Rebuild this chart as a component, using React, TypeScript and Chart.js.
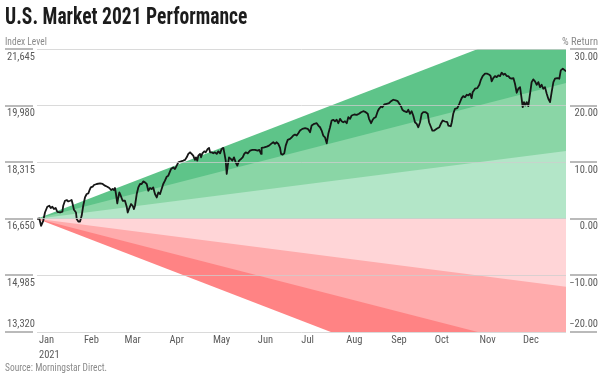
import React, { useEffect, useRef, useState } from "react";
import { Chart, registerables } from "chart.js";

Chart.register(...registerables);

// ---------- data ----------
const monthLabels = ["Jan", "Feb", "Mar", "Apr", "May", "Jun", "Jul", "Aug", "Sep", "Oct", "Nov", "Dec"];
const monthStartDays = [0, 31, 59, 90, 120, 151, 181, 212, 243, 273, 304, 334];
const yearLabel = "2021";
const indexTicks = [13320, 14985, 16650, 18315, 19980, 21645];
const returnTicks = [-20, -10, 0, 10, 20, 30];
const baseLevel = 16650;
const bandEndReturns = [36, 24, 12, -12, -24, -36];

// day of year (0 = Jan 1) and index level of the market line
const lineDays = [
  0.0, 1.6, 2.8, 4.3, 5.5, 7.1, 8.5, 9.5, 10.6, 11.7, 12.9, 14.0, 15.9, 17.5, 18.1, 19.3, 20.5, 21.6, 22.8, 23.9,
  24.6, 25.5, 26.9, 27.4, 28.5, 29.7, 30.8, 31.9, 33.1, 34.3, 35.4, 36.1, 37.1, 38.4, 39.3, 41.2, 43.5, 45.3, 46.9, 48.5,
  49.9, 51.1, 52.2, 53.1, 53.8, 54.5, 55.4, 56.1, 56.8, 57.8, 59.1, 60.7, 61.9, 62.6, 63.7, 64.9, 66.0, 66.9, 67.6, 68.8,
  69.9, 71.1, 72.2, 73.3, 74.5, 75.7, 76.8, 78.0, 79.1, 80.2, 81.4, 82.6, 83.7, 84.9, 86.0, 87.1, 88.3, 89.5, 90.6,
  92.5, 94.0, 95.2, 96.4, 97.5, 99.4, 100.9, 102.1, 103.3, 104.4, 105.6, 106.7, 107.8, 109.0, 109.7, 110.6, 111.3, 112.5,
  113.2, 114.1, 115.4, 116.4, 117.8, 118.7, 119.4, 120.5, 121.6, 122.8, 124.0, 125.1, 126.3, 127.4, 128.6, 129.2, 130.2,
  130.9, 131.6, 132.5, 133.7, 134.8, 135.9, 137.1, 138.2, 139.4, 140.8, 141.9, 143.0, 144.0, 145.4, 147.0, 148.6, 150.4,
  152.3, 153.4, 154.6, 155.0, 156.8, 158.5, 160.1, 161.5, 163.0, 164.2, 165.4, 166.5, 167.7, 168.4, 169.5, 170.6, 171.6,
  173.0, 174.6, 175.7, 176.8, 178.0, 179.2, 180.3,
  181.5, 183.1, 185.0, 186.8, 187.7, 188.4, 189.5, 191.3, 193.0, 194.1, 195.3, 196.4, 197.5, 198.7, 199.9, 201.0, 202.2,
  203.3, 204.4, 205.6, 206.8, 207.9, 209.1, 210.2, 211.3, 212.5, 213.7, 214.8, 216.0, 217.1, 218.9, 220.6, 222.2, 223.6,
  225.1, 226.8, 228.2, 229.1, 230.5, 231.6, 232.7, 233.7, 235.1, 236.0, 237.4, 238.3, 239.6, 241.3, 242.9, 244.3, 245.8,
  247.5, 248.9, 249.8, 251.2, 252.1, 253.4, 255.1, 256.2, 257.4, 258.5, 259.6, 260.8, 262.0, 263.1, 264.3, 265.4, 266.5,
  268.2, 269.6, 270.5, 271.9, 272.8, 274.1,
  275.8, 277.6, 278.6, 279.9, 281.5, 283.1, 283.8, 285.5, 286.2, 287.2, 288.4, 290.0, 291.4, 293.0, 294.1, 295.3, 296.5,
  297.6, 298.8, 299.9, 300.6, 302.2, 303.8, 305.2, 306.1, 307.5, 309.1, 310.7, 312.1, 313.0, 313.7, 314.8, 316.0, 317.2,
  318.3, 319.5, 320.6, 321.8, 322.9, 324.1, 325.2, 326.4, 327.5, 328.7, 329.8, 331.0, 332.1, 333.3, 334.4, 335.1, 336.0,
  336.9, 337.9, 339.0, 340.2, 341.3, 342.4, 343.6, 344.8, 345.9, 347.1, 348.2, 349.3, 350.5, 351.7, 352.8, 354.0, 355.1,
  356.3, 357.4, 359.0, 360.4, 361.4, 362.8, 364.3, 365.0,
];
const lineLevels = [
  16650, 16659, 16444, 16591, 16836, 17004, 17034, 16966, 17004, 16936, 16966, 16857, 16836, 16857, 17034, 17181, 17202, 17160, 17181, 17202,
  17084, 16916, 16836, 16641, 16570, 16570, 16739, 17034, 17278, 17379, 17396, 17476, 17573, 17594, 17644, 17674, 17691, 17674, 17624, 17594,
  17556, 17497, 17526, 17497, 17556, 17379, 17101, 17278, 17426, 17329, 17181, 17181, 17004, 16836, 16966, 17084, 17034, 16936, 17034, 17379,
  17573, 17674, 17674, 17750, 17721, 17674, 17476, 17556, 17526, 17573, 17379, 17278, 17426, 17379, 17526, 17674, 17771, 17889, 17919,
  18116, 18163, 18116, 18214, 18311, 18340, 18361, 18382, 18458, 18559, 18606, 18559, 18509, 18382, 18458, 18361, 18509, 18559,
  18458, 18576, 18635, 18606, 18706, 18736, 18606, 18606, 18576, 18606, 18559, 18635, 18576, 18706, 18736, 18606, 18361,
  17969, 18214, 18458, 18411, 18361, 18458, 18311, 18214, 18361, 18411, 18458, 18559, 18606, 18576, 18656, 18677, 18677,
  18656, 18677, 18559, 18736, 18753, 18774, 18804, 18854, 18901, 18854, 18901, 18854, 18736, 18559, 18538, 18576, 18804,
  18972, 19001, 19048, 19099, 19128, 19099, 19166,
  19246, 19296, 19314, 19296, 19246, 19196, 19394, 19444, 19461, 19394, 19343, 19246, 19099, 19048, 18871, 19149, 19343,
  19541, 19562, 19520, 19562, 19461, 19591, 19520, 19491, 19520, 19461, 19638, 19591, 19689, 19718, 19709, 19739, 19786,
  19815, 19786, 19739, 19591, 19461, 19562, 19621, 19638, 19815, 19886, 19954, 19933, 20013, 20034, 20051, 20110, 20152,
  20131, 20110, 20051, 19954, 19857, 19815, 19786, 19857, 19739, 19815, 19689, 19491, 19444, 19343, 19491, 19739, 19786,
  19786, 19739, 19491, 19343, 19246, 19246,
  19296, 19343, 19444, 19541, 19512, 19491, 19394, 19373, 19491, 19739, 19886, 19904, 20034, 20199, 20258, 20228, 20299,
  20279, 20329, 20199, 20376, 20476, 20494, 20594, 20721, 20848, 20919, 20919, 20889, 20848, 20692, 20789, 20848, 20818,
  20869, 20848, 20948, 20889, 20919, 20848, 20848, 20789, 20771, 20789, 20624, 20358, 20476, 20523, 20181, 19933, 20081,
  19984, 20081, 19963, 20329, 20671, 20751, 20692, 20594, 20671, 20523, 20594, 20476, 20523, 20329, 20181, 20081, 20376,
  20671, 20771, 20789, 20771, 21016, 21066, 21016, 20986,
];

// ---------- styles ----------
const bandColors = ["#5ec489", "#8ad6a6", "#b3e6c8", "#ffd5d7", "#ffabac", "#ff8384"];
const bandOrder = [3, 2, 1, 1, 2, 3];
const labelColor = "#5a5a5a";
const lightText = "#8a8a8a";

type FontInfo = { family: string; condensed: boolean; ratio: number };

function pickFont(): FontInfo {
  try {
    const c = document.createElement("canvas").getContext("2d");
    if (c) {
      const sample = "21,645 Performance Index";
      for (const fam of ["Roboto", "Noto Sans", "Open Sans"]) {
        c.font = `normal normal 20px '${fam}'`;
        const w1 = c.measureText(sample).width;
        c.font = `normal condensed 20px '${fam}'`;
        const w2 = c.measureText(sample).width;
        if (w2 < w1 * 0.92) return { family: `'${fam}', sans-serif`, condensed: true, ratio: w2 / w1 };
      }
    }
  } catch (e) {
    /* ignore */
  }
  return { family: "Roboto, sans-serif", condensed: false, ratio: 1 };
}

function makeTickMarks() {
  return {
    id: "tickMarks",
    afterDraw(chart: any) {
      const ctx = chart.ctx;
      const y = chart.scales.y;
      const y1 = chart.scales.y1;
      ctx.save();
      ctx.strokeStyle = "#a3a3a3";
      ctx.lineWidth = 1.5;
      y.ticks.forEach((t: any) => {
        const p = Math.round(y.getPixelForValue(t.value));
        ctx.beginPath();
        ctx.moveTo(y.left - 2, p);
        ctx.lineTo(y.right - 4, p);
        ctx.stroke();
      });
      y1.ticks.forEach((t: any) => {
        const p = Math.round(y1.getPixelForValue(t.value));
        ctx.beginPath();
        ctx.moveTo(y1.left + 4, p);
        ctx.lineTo(y1.right - 1, p);
        ctx.stroke();
      });
      ctx.restore();
    },
  };
}

export default function App() {
  const ref = useRef<HTMLCanvasElement | null>(null);
  const [font] = useState<FontInfo>(() => pickFont());

  useEffect(() => {
    if (!ref.current) return;
    const tickFont = {
      family: font.family,
      size: font.condensed ? 10.5 : 9,
      weight: font.condensed ? "condensed" : "normal",
    };
    const bandSets = bandEndReturns.map((r, i) => ({
      label: `band${r}`,
      data: [
        { x: monthStartDays[0], y: baseLevel },
        { x: 365, y: baseLevel * (1 + r / 100) },
      ],
      borderWidth: 0,
      pointRadius: 0,
      backgroundColor: bandColors[i],
      fill: { value: baseLevel },
      order: bandOrder[i],
      yAxisID: "y",
    }));
    const chart = new Chart(ref.current, {
      type: "line",
      data: {
        datasets: [
          {
            label: "Index",
            data: lineDays.map((d, i) => ({ x: d, y: lineLevels[i] })),
            borderColor: "#161616",
            borderWidth: 1.8,
            pointRadius: 0,
            tension: 0,
            fill: false,
            borderJoinStyle: "round",
            order: 0,
            yAxisID: "y",
          },
          ...bandSets,
        ] as any,
      },
      options: {
        responsive: false,
        animation: false,
        events: [],
        devicePixelRatio: 1,
        layout: { padding: { left: 7, right: 3, top: 49, bottom: 15 } },
        plugins: { legend: { display: false }, tooltip: { enabled: false }, title: { display: false } },
        scales: {
          x: {
            type: "linear",
            min: 0,
            max: 365,
            grid: { display: false, drawTicks: false },
            border: { display: false },
            afterBuildTicks: (s: any) => {
              s.ticks = monthStartDays.map((v) => ({ value: v }));
            },
            afterFit: (s: any) => {
              s.height = 30;
            },
            ticks: {
              autoSkip: false,
              maxRotation: 0,
              minRotation: 0,
              align: "start",
              labelOffset: 2,
              padding: 1,
              color: labelColor,
              font: { ...tickFont, lineHeight: 15 / tickFont.size },
              callback: (_v: any, i: number) => (i === 0 ? [monthLabels[0], yearLabel] : monthLabels[i]),
            },
          },
          y: {
            type: "linear",
            position: "left",
            min: indexTicks[0],
            max: indexTicks[indexTicks.length - 1],
            grid: { display: true, drawTicks: false, color: "rgba(205,205,205,0.75)", lineWidth: 1, z: 1 },
            border: { display: false },
            afterBuildTicks: (s: any) => {
              s.ticks = indexTicks.map((v) => ({ value: v }));
            },
            afterFit: (s: any) => {
              s.width = 30;
            },
            ticks: {
              crossAlign: "far",
              padding: 0,
              color: labelColor,
              font: { ...tickFont, lineHeight: 16 / tickFont.size },
              callback: (v: any) => {
                const s = Number(v).toLocaleString("en-US");
                return Number(v) === indexTicks[0] ? [s, ""] : ["", s];
              },
            },
          },
          y1: {
            type: "linear",
            position: "right",
            min: returnTicks[0],
            max: returnTicks[returnTicks.length - 1],
            grid: { display: false, drawTicks: false },
            border: { display: false },
            afterBuildTicks: (s: any) => {
              s.ticks = returnTicks.map((v) => ({ value: v }));
            },
            afterFit: (s: any) => {
              s.width = 32;
            },
            ticks: {
              crossAlign: "far",
              padding: 0,
              color: labelColor,
              font: { ...tickFont, lineHeight: 16 / tickFont.size },
              callback: (v: any) => {
                const n = Number(v);
                const s = (n < 0 ? "\u2212" : "") + Math.abs(n).toFixed(2);
                return n === returnTicks[0] ? [s, ""] : ["", s];
              },
            },
          },
        },
      } as any,
      plugins: [makeTickMarks()],
    });
    return () => chart.destroy();
  }, [font]);

  const stretch = font.condensed ? "condensed" : "normal";
  const titleScale = font.condensed ? 0.85 : 0.7;
  const smallScale = font.condensed ? 0.9 : 0.75;
  const returnScale = font.condensed ? 1 : 0.82;

  return (
    <div style={{ position: "absolute", left: 0, top: 0, width: 601, height: 377, background: "#fff", overflow: "hidden" }}>
      <canvas ref={ref} width={601} height={377} style={{ position: "absolute", left: 0, top: 0 }} />
      <div
        style={{
          position: "absolute",
          left: 5,
          top: 5,
          fontFamily: font.family,
          fontWeight: 700,
          fontStretch: stretch,
          fontSize: 23,
          lineHeight: "23px",
          color: "#1c1c1c",
          whiteSpace: "nowrap",
          transformOrigin: "left top",
          transform: `scaleX(${titleScale})`,
        }}
      >
        U.S. Market 2021 Performance
      </div>
      <div
        style={{
          position: "absolute",
          left: 5,
          top: 36.5,
          fontFamily: font.family,
          fontStretch: stretch,
          fontSize: 10.5,
          lineHeight: "10px",
          color: lightText,
          whiteSpace: "nowrap",
          transformOrigin: "left top",
          transform: `scaleX(${smallScale})`,
        }}
      >
        Index Level
      </div>
      <div
        style={{
          position: "absolute",
          right: 3,
          top: 36.5,
          fontFamily: font.family,
          fontStretch: stretch,
          fontSize: 10.5,
          lineHeight: "10px",
          color: lightText,
          whiteSpace: "nowrap",
          textAlign: "right",
          transformOrigin: "right top",
          transform: `scaleX(${returnScale})`,
        }}
      >
        % Return
      </div>
      <div
        style={{
          position: "absolute",
          left: 5,
          top: 362.5,
          fontFamily: font.family,
          fontStretch: stretch,
          fontSize: 10.5,
          lineHeight: "10px",
          color: lightText,
          whiteSpace: "nowrap",
          transformOrigin: "left top",
          transform: `scaleX(${smallScale})`,
        }}
      >
        Source: Morningstar Direct.
      </div>
    </div>
  );
}
